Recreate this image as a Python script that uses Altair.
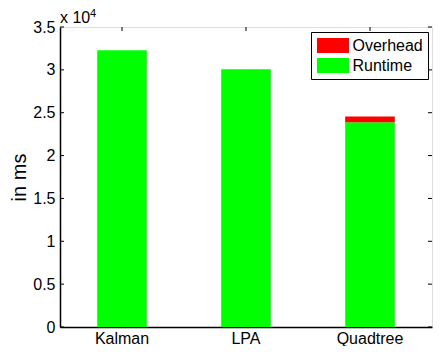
import altair as alt
import pandas as pd

categories = ["Kalman", "LPA", "Quadtree"]
runtime = [32280, 30070, 23880]
overhead = [0, 0, 680]
series = ["Overhead", "Runtime"]
colors = ["#ff0000", "#00ff00"]
y_ticks = [0, 5000, 10000, 15000, 20000, 25000, 30000, 35000]

FONT = "Liberation Sans"
W, H = 372, 300

rows = []
for c, r, o in zip(categories, runtime, overhead):
    rows.append({"cat": c, "series": "Runtime", "value": r, "ord": 0})
    rows.append({"cat": c, "series": "Overhead", "value": o, "ord": 1})
df = pd.DataFrame(rows)
df_cat = pd.DataFrame({"cat": categories})
df_yt = pd.DataFrame({"v": y_ticks})
df_one = pd.DataFrame({"a": [0]})

xscale = alt.Scale(domain=categories, paddingInner=0.6, paddingOuter=0.3)
yscale = alt.Scale(domain=[0, 35000], nice=False)

legend_path = "M-2.1333,-1H2.1333V1H-2.1333Z"

bars = alt.Chart(df).mark_bar().encode(
    x=alt.X("cat:N", scale=xscale, sort=categories,
            axis=alt.Axis(title=None, labelFontSize=16, labelFont=FONT, labelColor="black",
                          ticks=False, labelPadding=3, labelAngle=0, bandPosition=0.5,
                          labelAlign="center", labelBaseline="top",
                          domainColor="black", domainWidth=1.5)),
    y=alt.Y("value:Q", scale=yscale, stack="zero",
            axis=alt.Axis(values=y_ticks, labelExpr="datum.value / 10000 + ''",
                          labelFontSize=16, labelFont=FONT, labelColor="black",
                          ticks=False, labelPadding=5, grid=False,
                          domainColor="black", domainWidth=1.5,
                          title="in ms", titleFontSize=20, titleFont=FONT,
                          titleFontWeight="normal", titleColor="black", titlePadding=3)),
    color=alt.Color("series:N", scale=alt.Scale(domain=series, range=colors),
                    legend=alt.Legend(title=None, orient="none", legendX=251, legendY=5,
                                      symbolType=legend_path, symbolSize=225,
                                      symbolOffset=8.5, labelOffset=11,
                                      labelFontSize=16, labelFont=FONT, labelColor="black",
                                      rowPadding=3, padding=5,
                                      fillColor="white", strokeColor="black")),
    order=alt.Order("ord:Q", sort="ascending"),
)

left_ticks = alt.Chart(df_yt).mark_rule(color="black", strokeWidth=1).encode(
    y=alt.Y("v:Q", scale=yscale), x=alt.value(0), x2=alt.value(4))
right_ticks = alt.Chart(df_yt).mark_rule(color="black", strokeWidth=1).encode(
    y=alt.Y("v:Q", scale=yscale), x=alt.value(W - 4), x2=alt.value(W))
top_ticks = alt.Chart(df_cat).mark_rule(color="black", strokeWidth=1).encode(
    x=alt.X("cat:N", scale=xscale, sort=categories, bandPosition=0.5),
    y=alt.value(0), y2=alt.value(4))

exp_main = alt.Chart(df_one).mark_text(align="left", baseline="alphabetic", fontSize=16,
                                      font=FONT, color="black").encode(
    x=alt.value(0), y=alt.value(-4), text=alt.value("x 10"))
exp_sup = alt.Chart(df_one).mark_text(align="left", baseline="alphabetic", fontSize=11,
                                     font=FONT, color="black").encode(
    x=alt.value(30), y=alt.value(-10), text=alt.value("4"))

chart = alt.layer(left_ticks, right_ticks, top_ticks, bars, exp_main, exp_sup).properties(
    width=W, height=H,
    padding={"left": 52, "top": 19, "right": 1, "bottom": 19},
    autosize=alt.AutoSizeParams(type="none"),
).configure_view(stroke="black", strokeWidth=1).configure(background="white")

chart.save("out.html", embed_options={"renderer": "svg", "actions": False})
